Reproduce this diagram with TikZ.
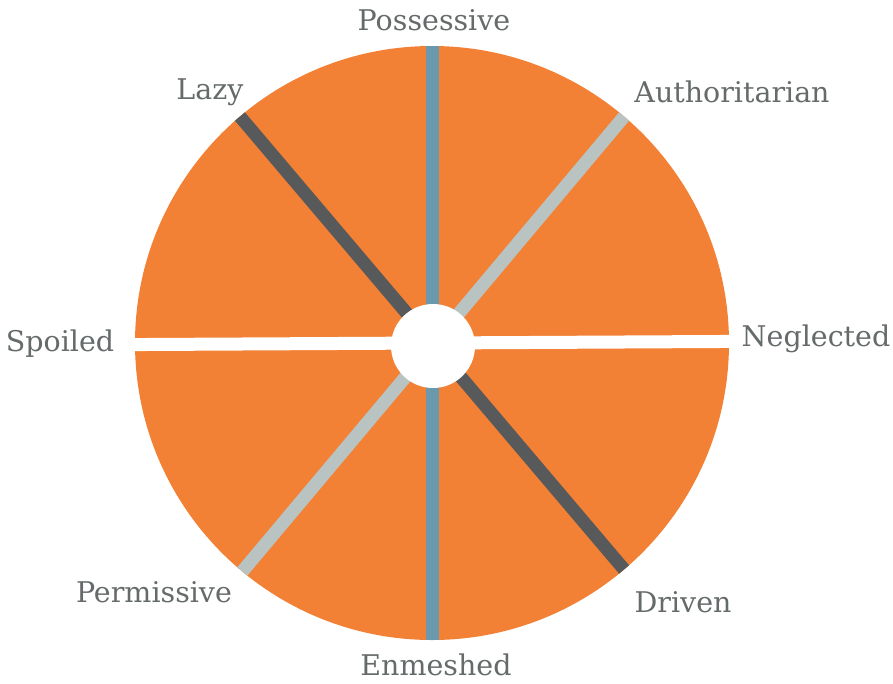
\documentclass[tikz,border=0pt]{standalone}
\usepackage{fontspec}
\setmainfont{DejaVu Serif}
\usetikzlibrary{positioning}

\definecolor{wheelorange}{HTML}{F38135}
\definecolor{spokeblue}{HTML}{6A98AD}
\definecolor{spokedark}{HTML}{58595B}
\definecolor{spokelight}{HTML}{B9C3C1}
\definecolor{labelgrey}{HTML}{656A6A}

\tikzset{
  lbl/.style={text=labelgrey, font=\fontsize{28.5}{32}\selectfont, inner sep=0pt},
  spoke/.style={line width=13pt, line cap=butt}
}

\begin{document}
\begin{tikzpicture}[x=1pt, y=-1pt]
  \useasboundingbox (0,0) rectangle (893,683);

  % the wheel
  \coordinate (c) at (432,343);
  \fill[wheelorange] (c) circle[radius=297pt];

  % ends of the spokes on the rim
  \path (c) ++(90:297pt) coordinate (top)
        (c) ++(-90:297pt) coordinate (bot)
        (c) ++(130.3:297pt) coordinate (nw)
        (c) ++(-49.7:297pt) coordinate (se)
        (c) ++(49.7:297pt) coordinate (ne)
        (c) ++(230.3:297pt) coordinate (sw)
        (c) ++(0.3:302pt) coordinate (e)
        (c) ++(180.3:302pt) coordinate (w);

  \draw[spoke, spokeblue] (top) -- (bot);
  \draw[spoke, spokedark] (nw) -- (se);
  \draw[spoke, spokelight] (ne) -- (sw);
  \draw[spoke, white] (w) -- (e);

  % hub
  \fill[white] (433,346) circle[radius=42pt];

  % labels
  \node[lbl] (possessive) at (434,20) {Possessive};
  \node[lbl] (lazy) at (210,92) {Lazy};
  \node[lbl] (authoritarian) at (732,92) {Authoritarian};
  \node[lbl] (spoiled) at (60,344) {Spoiled};
  \node[lbl] (neglected) at (816,339) {Neglected};
  \node[lbl] (permissive) at (154,592) {Permissive};
  \node[lbl] (driven) at (683,602) {Driven};
  \node[lbl] (enmeshed) at (436,665) {Enmeshed};
\end{tikzpicture}
\end{document}
